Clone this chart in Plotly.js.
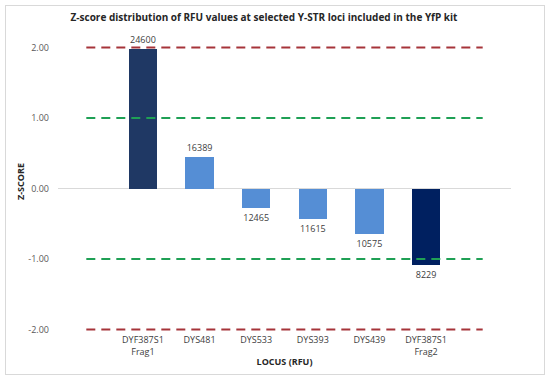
<!DOCTYPE html>
<html>
<head>
<meta charset="utf-8">
<script src="https://cdn.plot.ly/plotly-3.0.1.min.js"></script>
<style>
  html, body { margin: 0; padding: 0; background: #fff; }
  #wrap { position: relative; width: 550px; height: 383px; }
  #chart { width: 550px; height: 383px; }
  #frame { position: absolute; left: 5px; top: 5px; width: 538px; height: 368px;
           border: 1px solid #D9D9D9; pointer-events: none; }
</style>
</head>
<body>
<div id="wrap"><div id="chart"></div><div id="frame"></div></div>
<script>
const loci = ['DYF387S1<br>Frag1', 'DYS481', 'DYS533', 'DYS393', 'DYS439', 'DYF387S1<br>Frag2'];
const zScores = [1.98, 0.45, -0.27, -0.43, -0.64, -1.08];
const rfuLabels = ['24600', '16389', '12465', '11615', '10575', '8229'];
const barColors = ['#1F3864', '#558ED5', '#558ED5', '#558ED5', '#558ED5', '#002060'];
const yTicks = [2, 1, 0, -1, -2];
const yTickText = ['2.00', '1.00', '0.00', '-1.00', '-2.00'];
const redLevels = [2, -2];
const greenLevels = [1, -1];

const xPos = loci.map((_, i) => i + 1);
const lineStart = 0, lineEnd = loci.length + 1;

const trace = {
  type: 'bar',
  x: xPos,
  y: zScores,
  width: 0.5,
  marker: { color: barColors },
  text: rfuLabels,
  textposition: 'outside',
  textfont: { family: 'Open Sans, sans-serif', size: 9, color: '#404040' },
  cliponaxis: false,
  hoverinfo: 'none'
};

const shapes = [];
redLevels.forEach(v => shapes.push({
  type: 'line', xref: 'x', yref: 'y', x0: lineStart, x1: lineEnd, y0: v, y1: v,
  line: { color: '#A6343A', width: 2, dash: '9px,6px' }, layer: 'above'
}));
greenLevels.forEach(v => shapes.push({
  type: 'line', xref: 'x', yref: 'y', x0: lineStart, x1: lineEnd, y0: v, y1: v,
  line: { color: '#1FA055', width: 2, dash: '9px,6px' }, layer: 'above'
}));

const layout = {
  width: 550, height: 383,
  margin: { l: 58, r: 39, t: 30, b: 50 },
  paper_bgcolor: '#fff', plot_bgcolor: '#fff',
  showlegend: false,
  title: {
    text: '<b>Z-score distribution of RFU values at selected Y-STR loci included in the YfP kit</b>',
    font: { family: 'Open Sans, sans-serif', size: 10, color: '#262626' },
    xref: 'container', x: 264 / 550, xanchor: 'center', y: 0.955, yanchor: 'middle'
  },
  xaxis: {
    range: [-0.5, loci.length + 1.5],
    tickvals: xPos, ticktext: loci,
    showgrid: false, zeroline: false, showline: false, ticks: '',
    tickfont: { family: 'Open Sans, sans-serif', size: 9, color: '#404040' },
    title: { text: '<b>LOCUS (RFU)</b>', font: { family: 'Open Sans, sans-serif', size: 9, color: '#262626' }, standoff: 1 }
  },
  yaxis: {
    range: [-2.05, 2.25],
    tickvals: yTicks, ticktext: yTickText,
    showgrid: false, showline: false, ticks: '',
    zeroline: true, zerolinecolor: '#D9D9D9', zerolinewidth: 1,
    ticklabelstandoff: 8,
    tickfont: { family: 'Open Sans, sans-serif', size: 9, color: '#595959' },
    title: { text: '<b>Z-SCORE</b>', font: { family: 'Open Sans, sans-serif', size: 9, color: '#262626' }, standoff: 2 }
  },
  shapes: shapes,
  bargap: 0
};

Plotly.newPlot('chart', [trace], layout, { displayModeBar: false, staticPlot: true });
</script>
</body>
</html>
